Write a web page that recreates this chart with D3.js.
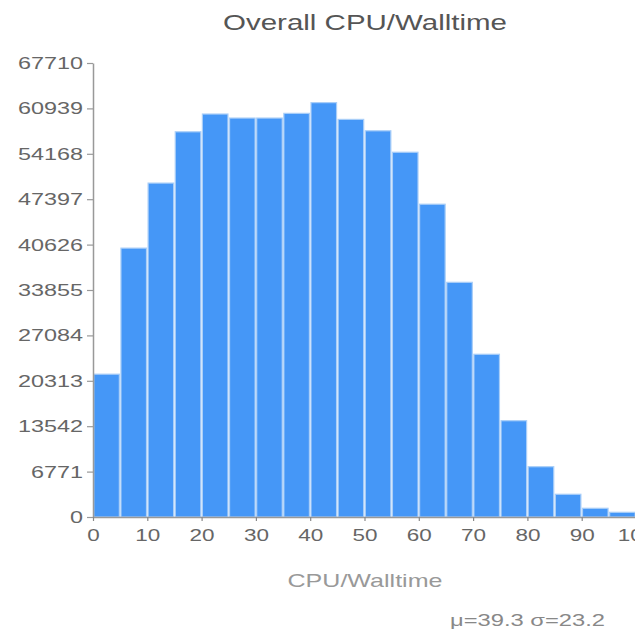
<!DOCTYPE html>
<html>
<head>
<meta charset="utf-8">
<script src="https://cdn.jsdelivr.net/npm/d3@7"></script>
<style>
  html, body { margin: 0; padding: 0; background: #fff; }
  svg { display: block; }
  text { font-family: "Liberation Sans", Arial, Helvetica, sans-serif; }
</style>
</head>
<body>
<svg id="chart" width="635" height="631"></svg>
<script>
// Histogram of CPU/Walltime ratio (%), 5-unit bins
const binStarts = [0, 5, 10, 15, 20, 25, 30, 35, 40, 45, 50, 55, 60, 65, 70, 75, 80, 85, 90, 95];
const binWidth = 5;
const counts = [21300, 40100, 49800, 57450, 60100, 59500, 59500, 60200, 61800, 59300,
                57600, 54400, 46650, 35000, 24270, 14360, 7500, 3390, 1300, 700];
const yTickValues = [0, 6771, 13542, 20313, 27084, 33855, 40626, 47397, 54168, 60939, 67710];
const xTickValues = [0, 10, 20, 30, 40, 50, 60, 70, 80, 90, 100];
const titleText = "Overall CPU/Walltime";
const xLabelText = "CPU/Walltime";
const statsText = "\u03bc=39.3 \u03c3=23.2";

const svg = d3.select("#chart");

const x = d3.scaleLinear().domain([0, 100]).range([93, 636]);
const y = d3.scaleLinear().domain([0, 67710]).range([517, 63]);

// bars
svg.append("g")
  .selectAll("rect")
  .data(binStarts.map((s, i) => ({ x0: s, x1: s + binWidth, n: counts[i] })))
  .join("rect")
  .attr("x", d => x(d.x0) + 0.8)
  .attr("width", d => x(d.x1) - x(d.x0) - 1.6)
  .attr("y", d => y(d.n))
  .attr("height", d => y(0) - y(d.n))
  .attr("fill", "#4597f7")
  .attr("stroke", "#a9cef8")
  .attr("stroke-width", 1.2);

// y axis
const yAxis = svg.append("g")
  .attr("transform", "translate(93,0)")
  .call(d3.axisLeft(y).tickValues(yTickValues).tickFormat(d3.format("d")).tickSize(6).tickSizeOuter(0));
yAxis.select(".domain").attr("stroke", "#999").attr("stroke-width", 1.5);
yAxis.selectAll(".tick line").attr("stroke", "#999").attr("stroke-width", 1.2);
yAxis.selectAll(".tick text")
  .attr("x", -10)
  .attr("fill", "#666")
  .style("font-size", "17px")
  .attr("textLength", d => String(d).length * 13)
  .attr("lengthAdjust", "spacingAndGlyphs");

// x axis
const xAxis = svg.append("g")
  .attr("transform", "translate(0,517)")
  .call(d3.axisBottom(x).tickValues(xTickValues).tickFormat(d3.format("d")).tickSize(4).tickSizeOuter(0));
xAxis.select(".domain").attr("stroke", "#999").attr("stroke-width", 1.5);
xAxis.selectAll(".tick line").attr("stroke", "#888").attr("stroke-width", 1.2);
xAxis.selectAll(".tick text")
  .attr("y", 12)
  .attr("fill", "#666")
  .style("font-size", "17px")
  .attr("textLength", d => String(d).length * 12.5)
  .attr("lengthAdjust", "spacingAndGlyphs");

// title
svg.append("text")
  .attr("x", 365).attr("y", 30)
  .attr("text-anchor", "middle")
  .attr("fill", "#555")
  .style("font-size", "22px")
  .attr("textLength", 284)
  .attr("lengthAdjust", "spacingAndGlyphs")
  .text(titleText);

// x axis label
svg.append("text")
  .attr("x", 365).attr("y", 587)
  .attr("text-anchor", "middle")
  .attr("fill", "#999")
  .style("font-size", "19px")
  .attr("textLength", 155)
  .attr("lengthAdjust", "spacingAndGlyphs")
  .text(xLabelText);

// summary statistics
svg.append("text")
  .attr("x", 450).attr("y", 626)
  .attr("fill", "#888")
  .style("font-size", "17px")
  .attr("textLength", 155)
  .attr("lengthAdjust", "spacingAndGlyphs")
  .text(statsText);
</script>
</body>
</html>
